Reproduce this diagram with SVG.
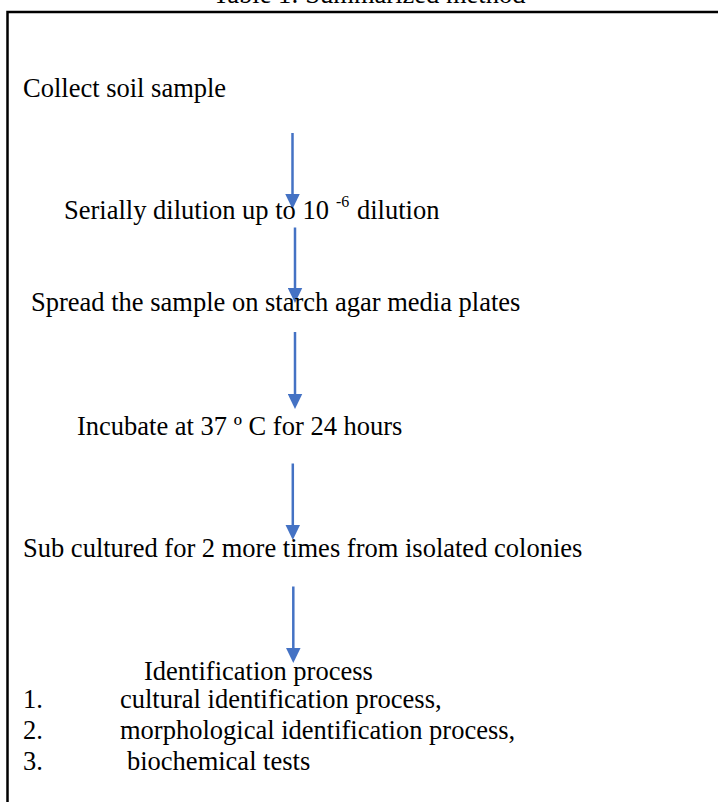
<svg xmlns="http://www.w3.org/2000/svg" width="718" height="802" viewBox="0 0 718 802">
  <style>
    .t { font-family: "Liberation Serif", "Times New Roman", serif; font-size: 26.5px; fill: #000; }
    .sup { font-family: "Liberation Serif", "Times New Roman", serif; font-size: 16px; fill: #000; }
    .arrow { stroke: #4472C4; stroke-width: 2.5; fill: none; marker-end: url(#head); }
    .frame { stroke: #000; stroke-width: 2.5; fill: none; }
  </style>
  <defs>
    <marker id="head" markerUnits="userSpaceOnUse" markerWidth="16" markerHeight="15" refX="3.5" refY="7.5" orient="auto">
      <path d="M0,0 L15.5,7.5 L0,15 z" fill="#4472C4"/>
    </marker>
  </defs>
  <rect width="718" height="802" fill="#fff"/>

  <g id="title">
    <text class="t" x="213" y="3">Table 1: Summarized method</text>
  </g>

  <g id="frame">
    <path class="frame" d="M7.5,802 L7.5,12 L718,12"/>
  </g>

  <g id="connectors">
    <line class="arrow" x1="292.5" y1="133" x2="292.5" y2="197"/>
    <line class="arrow" x1="295" y1="227.5" x2="295" y2="291"/>
    <line class="arrow" x1="295" y1="332" x2="295" y2="397"/>
    <line class="arrow" x1="292.8" y1="463.5" x2="292.8" y2="528"/>
    <line class="arrow" x1="293.3" y1="586.5" x2="293.3" y2="651"/>
  </g>

  <g id="n1">
    <text class="t" x="23" y="97">Collect soil sample</text>
  </g>
  <g id="n2">
    <text class="t" x="64" y="219">Serially dilution up to 10</text>
    <text class="sup" x="336" y="207">-6</text>
    <text class="t" x="357" y="219">dilution</text>
  </g>
  <g id="n3">
    <text class="t" x="31" y="311">Spread the sample on starch agar media plates</text>
  </g>
  <g id="n4">
    <text class="t" x="77" y="435">Incubate at 37 º C for 24 hours</text>
  </g>
  <g id="n5">
    <text class="t" x="23" y="557">Sub cultured for 2 more times from isolated colonies</text>
  </g>
  <g id="n6">
    <text class="t" x="144" y="680">Identification process</text>
    <text class="t" x="23" y="708">1.</text>
    <text class="t" x="120" y="708">cultural identification process,</text>
    <text class="t" x="23" y="739">2.</text>
    <text class="t" x="120" y="739">morphological identification process,</text>
    <text class="t" x="23" y="770">3.</text>
    <text class="t" x="127" y="770">biochemical tests</text>
  </g>
</svg>
